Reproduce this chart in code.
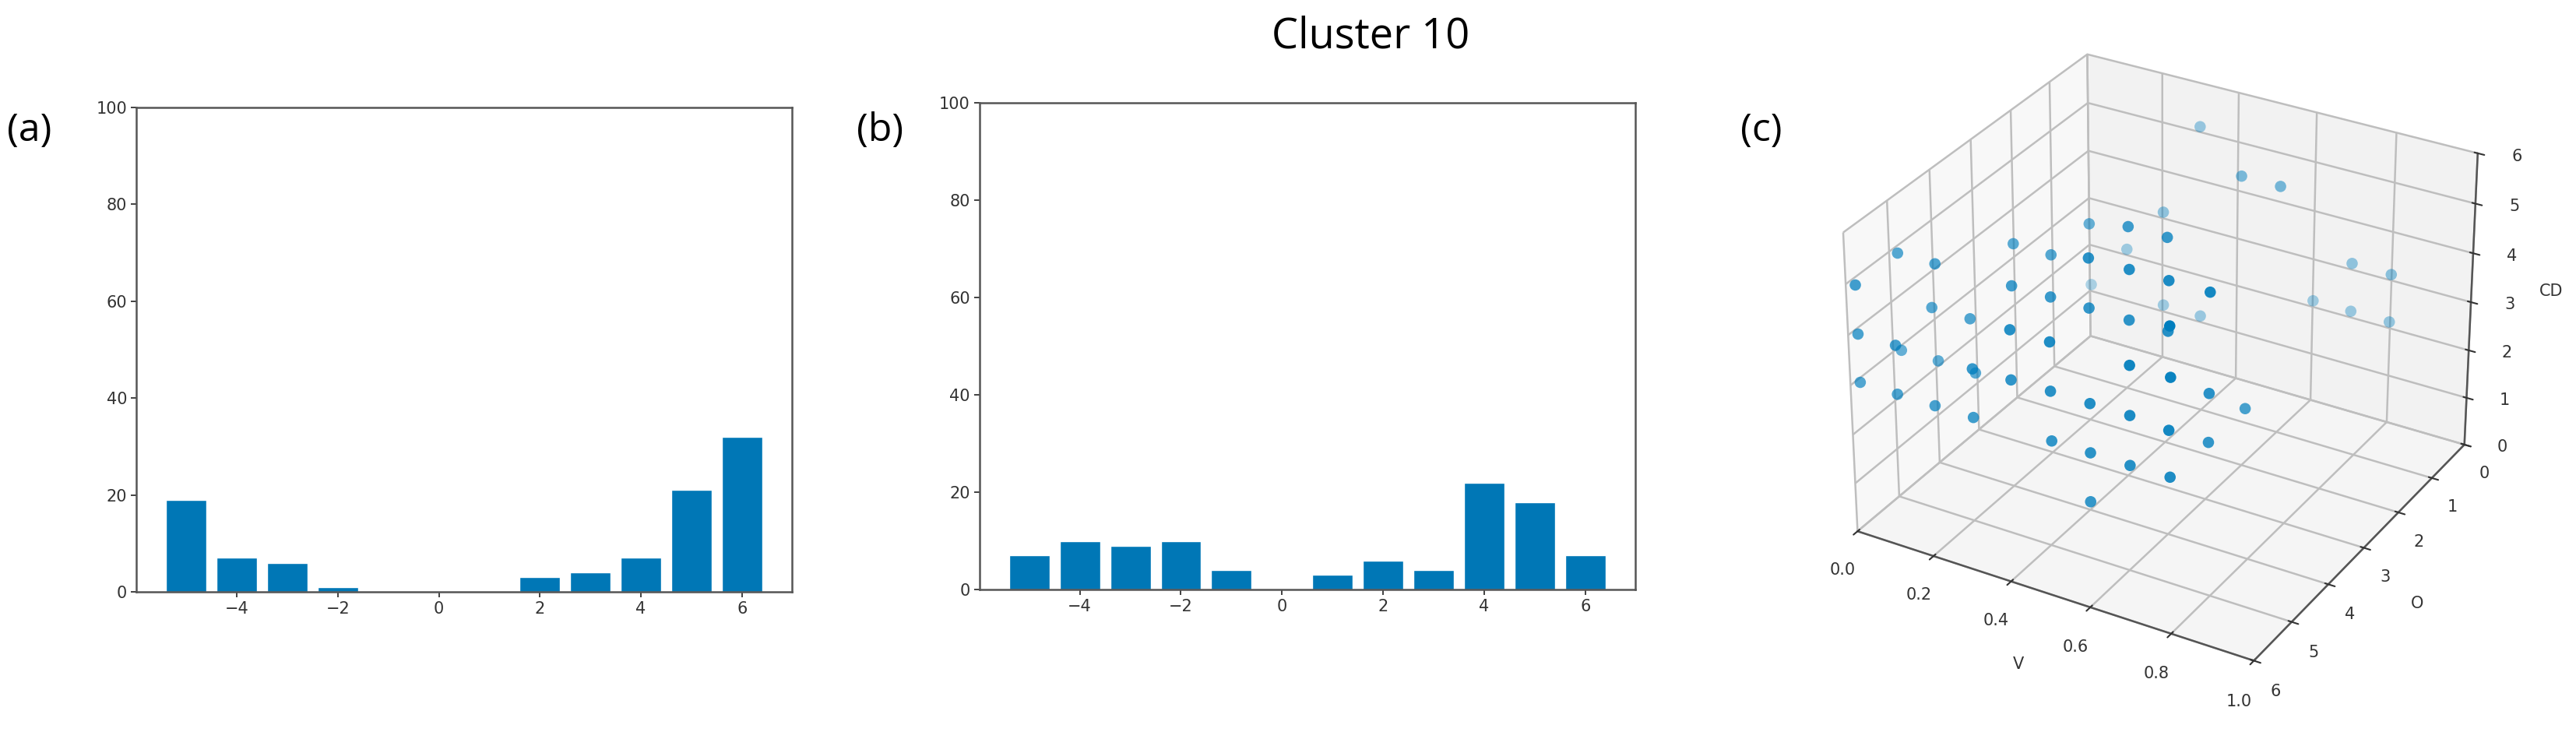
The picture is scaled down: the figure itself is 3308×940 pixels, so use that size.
import pandas as pd, seaborn as sns, matplotlib
matplotlib.use('Agg')
import matplotlib.pyplot as plt

bins = [-5, -4, -3, -2, -1, 0, 1, 2, 3, 4, 5, 6]
counts_a = [19, 7, 6, 1, 0, 0, 0, 3, 4, 7, 21, 32]
counts_b = [7, 10, 9, 10, 4, 0, 3, 6, 4, 22, 18, 7]
x_ticks = [-4, -2, 0, 2, 4, 6]
y_ticks = [0, 20, 40, 60, 80, 100]

v_vals = [.300, .501, .600, .299, .304, .502, .598, .202, .699, .799,
          .212, .308, .504, .603, .022, .118, .025, .105, .698, .796,
          .312, .409, .106, .204, .601, .699, .798, .504, .299, .397,
          .602, .796, .696, .026, .412, .509, .122, .022, .118, .316,
          .214, .701, .798, .412, .026, .122, .218, .315, .509, .605,
          .701, .794, .795, .794, .790, .510, .605, .701, .797, .604]
o_vals = [0, 1, 1, 1, 3, 4, 4, 1, 0, 0,
          4, 4, 5, 5, 5, 5, 6, 1, 5, 5,
          5, 5, 5, 5, 0, 0, 0, 5, 1, 1,
          5, 6, 5, 6, 6, 6, 6, 5, 5, 6,
          5, 6, 6, 6, 6, 6, 6, 6, 6, 6,
          6, 6, 5, 5, 4, 6, 6, 6, 6, 6]
cd_vals = [5.11, 5.11, 5.11, 3.95, 4.96, 5.95, 5.95, 2.97, 3.13, 3.12,
           4.99, 4.98, 5.98, 5.98, 5.02, 5.02, 5.04, 2.01, 5.98, 5.98,
           5.02, 5.02, 4.13, 4.13, 2.13, 2.13, 2.13, 5.02, 2.01, 2.00,
           5.01, 6.00, 5.01, 4.08, 5.05, 5.04, 4.08, 3.08, 3.09, 4.07,
           3.07, 5.04, 5.04, 4.08, 3.12, 3.11, 3.11, 3.11, 4.09, 4.08,
           4.08, 4.02, 4.04, 3.08, 3.04, 3.12, 3.12, 3.11, 3.12, 2.15]

BAR = '#0077B6'
DOT = '#007EBE'
INK = '#333333'
EDGE = '#555555'
LABEL_FONT = 'Open Sans'

sns.set_style('ticks')
W, H = 3308, 940
fig = plt.figure(figsize=(W / 100, H / 100), dpi=100)


def box(l, t, r, b):
    return [l / W, 1 - b / H, (r - l) / W, (b - t) / H]


def hist_panel(rect, counts):
    ax = fig.add_axes(box(*rect))
    df = pd.DataFrame({'x': bins, 'count': counts})
    sns.barplot(data=df, x='x', y='count', native_scale=True, width=.8,
                color=BAR, saturation=1, ax=ax)
    ax.set_xlim(-5.99, 6.99)
    ax.set_ylim(0, 100)
    ax.set_xticks(x_ticks)
    ax.set_yticks(y_ticks)
    ax.set(xlabel='', ylabel='')
    ax.tick_params(labelsize=15, length=5, width=1.3, colors=INK)
    for sp in ax.spines.values():
        sp.set_visible(True)
        sp.set_color(EDGE)
        sp.set_linewidth(1.8)
    return ax


hist_panel((175, 138, 1017, 760), counts_a)
hist_panel((1257.5, 132, 2100, 757), counts_b)

cx, cy, s = 2770, 452.6, 453
ax3 = fig.add_axes(box(cx - s, cy - s, cx + s, cy + s), projection='3d')
ax3.patch.set_alpha(0)
ax3.scatter(v_vals, o_vals, cd_vals, color=DOT, s=110, linewidths=0)
ax3.set_xlim(0, 1)
ax3.set_ylim(6, 0)
ax3.set_zlim(0, 6)
ax3.set_xticks([0, .2, .4, .6, .8, 1])
ax3.set_yticks(range(7))
ax3.set_zticks(range(7))
ax3.set_xlabel('V', fontsize=15, color=INK, labelpad=25)
ax3.set_ylabel('O', fontsize=15, color=INK, labelpad=25)
ax3.set_zlabel('CD', fontsize=15, color=INK, labelpad=25)
ax3.tick_params(labelsize=15, colors=INK)
ax3.tick_params(axis='x', pad=13)
ax3.tick_params(axis='y', pad=10)
ax3.tick_params(axis='z', pad=14)
for a in (ax3.xaxis, ax3.yaxis, ax3.zaxis):
    a._axinfo['grid'].update(color='#BEBEBE', linewidth=1.8)
    a._axinfo['axisline']['linewidth'] = 1.6
    a._axinfo['tick'].update(color=INK, linewidth={True: 1.5, False: 1})
    a.line.set_color(EDGE)
    a.line.set_linewidth(1.8)

fig.text(1760 / W, 1 - 47 / H, 'Cluster 10', ha='center', va='center',
         fontsize=39, family=LABEL_FONT, color='black')
for label, x, y in [('(a)', 38, 168), ('(b)', 1130, 168), ('(c)', 2262, 168)]:
    fig.text(x / W, 1 - y / H, label, ha='center', va='center',
             fontsize=36, family=LABEL_FONT, color='black')

fig.savefig('out.png', dpi=100)
